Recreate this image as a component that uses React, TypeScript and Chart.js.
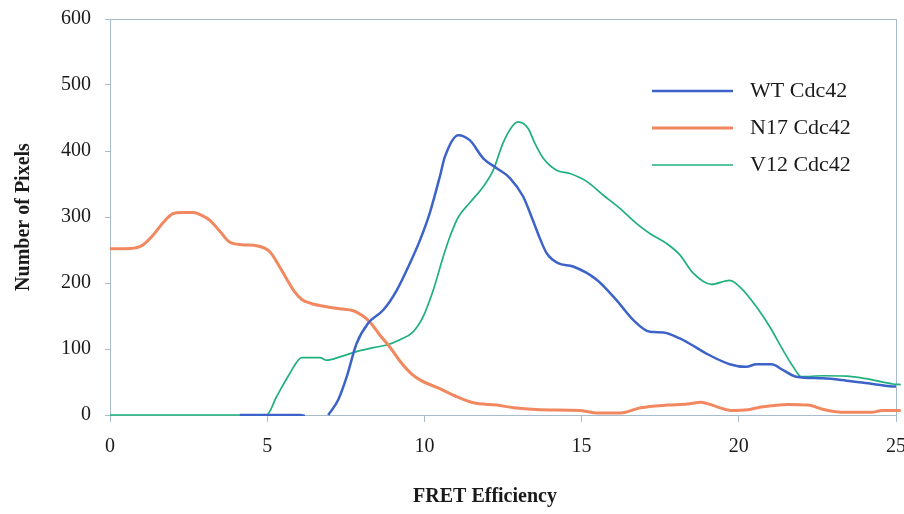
import React, { useEffect, useRef } from 'react';
import { Chart, registerables } from 'chart.js';

Chart.register(...registerables);

const seriesLabels = ['WT Cdc42', 'N17 Cdc42', 'V12 Cdc42'];
const seriesColors = ['#3d63c9', '#f2885f', '#1fb07c'];
const seriesWidths = [2.5, 3, 1.7];

const xTickValues = [0, 5, 10, 15, 20, 25];
const yTickValues = [0, 100, 200, 300, 400, 500, 600];

const xTitle = 'FRET Efficiency';
const yTitle = 'Number of Pixels';

const wtX = [4.13, 6.04, 6.2, 6.55, 6.94, 7.26, 7.53, 7.84, 8.21, 8.69, 9.12, 9.54, 9.86, 10.17, 10.49, 10.65, 11.08, 11.45, 11.87, 12.3, 12.72, 13.14, 13.41, 13.67, 13.89, 14.25, 14.73, 15.48, 16.11, 16.64, 17.17, 17.6, 18.12, 18.44, 18.97, 19.71, 20.24, 20.56, 21.04, 21.41, 21.83, 22.68, 23.42, 24.27, 25.0, 25.15];
const wtY = [0, 0, -1, null, 0, 23, 58, 108, 139, 159, 189, 230, 265, 306, 361, 391, 424, 416, 389, 374, 359, 331, 300, 268, 245, 230, 225, 205, 174, 144, 126, 125, 116, 108, 93, 77, 73, 77, 77, 68, 58, 55.5, 52, 47, 43, 43];

const n17X = [0, 0.5, 0.95, 1.38, 1.7, 2.0, 2.3, 2.65, 2.9, 3.18, 3.5, 3.8, 4.2, 4.7, 5.09, 5.35, 5.62, 5.85, 6.1, 6.4, 6.89, 7.3, 7.74, 8.05, 8.3, 8.6, 8.9, 9.25, 9.6, 9.9, 10.49, 11.02, 11.56, 12.3, 12.84, 13.69, 14.96, 15.5, 16.24, 16.88, 17.73, 18.37, 18.79, 19.33, 19.75, 20.29, 20.71, 21.56, 22.2, 22.73, 23.37, 24.23, 24.55, 25.15];
const n17Y = [252, 252, 255, 273, 292, 305, 307, 307, 303, 295, 278, 262, 258, 256, 247, 228, 206, 188, 175, 169, 164, 161, 158, 150, 139, 120, 103, 80, 62, 52, 40, 28, 18.5, 15, 11, 8, 7, 3, 3, 11, 15, 16.5, 19.5, 12, 7, 8, 12, 16, 15, 8, 4, 4, 7, 7];

const v12X = [0, 4.98, 5.3, 5.72, 6.1, 6.68, 6.89, 7.31, 7.84, 8.37, 8.8, 9.22, 9.64, 9.96, 10.28, 10.6, 10.81, 11.08, 11.45, 11.87, 12.19, 12.5, 12.82, 12.98, 13.3, 13.51, 13.78, 14.2, 14.63, 15.16, 15.69, 16.22, 16.75, 17.17, 17.7, 18.12, 18.55, 19.13, 19.71, 20.08, 20.56, 20.98, 21.41, 21.73, 21.99, 22.68, 23.42, 24.06, 24.9, 25.15];
const v12Y = [0, 0, 28, 63, 87, 87, 83, 88, 96, 102, 106, 114, 126, 149, 189, 240, 270, 300, 322, 346, 371, 412, 439, 444, 434, 412, 389, 371, 366, 354, 333, 313, 290, 275, 260, 243, 215, 198, 204, 192, 164, 134, 98, 73, 58, 59.5, 59, 55, 47, 46];

const FONT = "'Liberation Serif', 'Times New Roman', serif";
const AXIS_COLOR = '#a9bccc';
const TEXT_COLOR = '#1a1a1a';

function toPoints(xs: number[], ys: (number | null)[]) {
  return xs.map((x, i) => ({ x, y: ys[i] }));
}

const boxPlugin = {
  id: 'plotBox',
  beforeDatasetsDraw(chart: any) {
    const { ctx, chartArea } = chart;
    ctx.save();
    ctx.strokeStyle = AXIS_COLOR;
    ctx.lineWidth = 1;
    const l = Math.round(chartArea.left) + 0.5;
    const t = Math.round(chartArea.top) + 0.5;
    const r = Math.round(chartArea.right) + 0.5;
    const b = Math.round(chartArea.bottom) + 0.5;
    ctx.strokeRect(l, t, r - l, b - t);
    ctx.restore();
  },
};

const legendPlugin = {
  id: 'insideLegend',
  afterDatasetsDraw(chart: any) {
    const { ctx } = chart;
    const rows = [91, 128, 165];
    ctx.save();
    chart.data.datasets.forEach((ds: any, i: number) => {
      const y = rows[i];
      ctx.strokeStyle = ds.borderColor;
      ctx.lineWidth = ds.borderWidth;
      ctx.beginPath();
      ctx.moveTo(652, y);
      ctx.lineTo(733, y);
      ctx.stroke();
      ctx.fillStyle = TEXT_COLOR;
      ctx.font = `22px ${FONT}`;
      ctx.textAlign = 'left';
      ctx.textBaseline = 'middle';
      ctx.fillText(ds.label, 750, y);
    });
    ctx.restore();
  },
};

const xTitlePlugin = {
  id: 'xTitle',
  afterDraw(chart: any) {
    const { ctx } = chart;
    ctx.save();
    ctx.fillStyle = TEXT_COLOR;
    ctx.font = `bold 20px ${FONT}`;
    ctx.textAlign = 'center';
    ctx.textBaseline = 'middle';
    ctx.fillText(xTitle, 485, 497);
    ctx.restore();
  },
};

export default function App() {
  const canvasRef = useRef<HTMLCanvasElement | null>(null);

  useEffect(() => {
    if (!canvasRef.current) return;
    const allX = [wtX, n17X, v12X];
    const allY = [wtY, n17Y, v12Y];
    const chart = new Chart(canvasRef.current, {
      type: 'line',
      data: {
        datasets: seriesLabels.map((label, i) => ({
          label,
          data: toPoints(allX[i], allY[i]),
          borderColor: seriesColors[i],
          backgroundColor: seriesColors[i],
          borderWidth: seriesWidths[i],
          pointRadius: 0,
          fill: false,
          spanGaps: false,
          cubicInterpolationMode: 'monotone' as const,
          clip: { left: 0, top: 0, right: 5, bottom: 1 } as any,
        })),
      },
      options: {
        animation: false,
        responsive: false,
        layout: { padding: { top: 19, right: 8, left: 0, bottom: 0 } },
        plugins: {
          legend: { display: false },
          tooltip: { enabled: false },
        },
        scales: {
          x: {
            type: 'linear',
            min: 0,
            max: 25,
            afterBuildTicks: (scale: any) => {
              scale.ticks = xTickValues.map((v) => ({ value: v }));
            },
            afterFit: (scale: any) => {
              scale.height = 99;
              scale.paddingLeft = 0;
              scale.paddingRight = 0;
            },
            ticks: {
              color: TEXT_COLOR,
              font: { family: FONT, size: 20 },
              padding: 13,
              maxRotation: 0,
              autoSkip: false,
            },
            grid: {
              drawOnChartArea: false,
              drawTicks: true,
              tickLength: 7,
              color: AXIS_COLOR,
            },
            border: { display: true, color: AXIS_COLOR },
          },
          y: {
            type: 'linear',
            min: 0,
            max: 600,
            afterBuildTicks: (scale: any) => {
              scale.ticks = yTickValues.map((v) => ({ value: v }));
            },
            afterFit: (scale: any) => {
              scale.width = 110;
              scale.paddingTop = 0;
              scale.paddingBottom = 0;
            },
            ticks: {
              color: TEXT_COLOR,
              font: { family: FONT, size: 20 },
              padding: 14,
              autoSkip: false,
            },
            grid: {
              drawOnChartArea: false,
              drawTicks: true,
              tickLength: 5,
              color: AXIS_COLOR,
            },
            border: { display: true, color: AXIS_COLOR },
            title: {
              display: true,
              text: yTitle,
              color: TEXT_COLOR,
              font: { family: FONT, size: 20, weight: 'bold' },
              padding: { top: 12, bottom: 0 },
            },
          },
        },
      },
      plugins: [boxPlugin, legendPlugin, xTitlePlugin],
    });
    return () => chart.destroy();
  }, []);

  return (
    <div style={{ position: 'fixed', left: 0, top: 0, width: 904, height: 514, background: '#ffffff' }}>
      <canvas ref={canvasRef} width={904} height={514} style={{ display: 'block' }} />
    </div>
  );
}
